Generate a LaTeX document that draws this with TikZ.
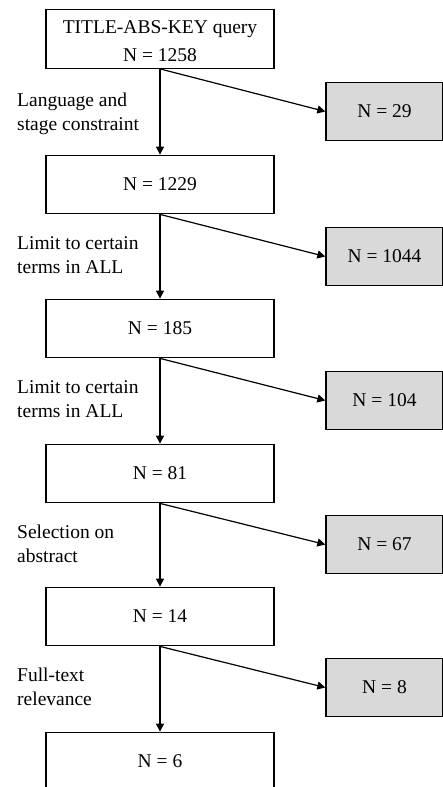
\documentclass[tikz,border=0pt]{standalone}
\usepackage{fontspec}
\setmainfont{Liberation Serif}
\usetikzlibrary{arrows.meta}
\definecolor{sidegray}{HTML}{D9D9D9}
\tikzset{
  mainbox/.style={draw=black, line width=1.3pt, fill=white, minimum width=228pt, minimum height=58.5pt, inner sep=0pt},
  sidebox/.style={draw=black, line width=1.3pt, fill=sidegray, minimum width=117pt, minimum height=58pt, inner sep=0pt},
  steplabel/.style={anchor=base west, align=left, inner sep=0pt},
  flow/.style={line width=1.2pt, -{Triangle[length=8pt,width=8pt]}}
}
\begin{document}
\begin{tikzpicture}[x=1pt,y=-1pt,font=\fontsize{19.5}{24}\selectfont]
\useasboundingbox (0,0) rectangle (443,787);
\clip (0,0) rectangle (443,787);
\node[mainbox] (m1) at (160,39) {\raisebox{-8.5pt}[0pt][0pt]{\begin{tabular}{@{}c@{}}TITLE-ABS-KEY query\\[4pt] N = 1258\end{tabular}}};
\node[mainbox] (m2) at (160,184.5) {N = 1229};
\node[mainbox] (m3) at (160,328.5) {N = 185};
\node[mainbox] (m4) at (160,473.5) {N = 81};
\node[mainbox] (m5) at (160,616.5) {N = 14};
\node[mainbox] (m6) at (160,761.5) {N = 6};
\node[sidebox] (s1) at (384.5,111.5) {N = 29};
\node[sidebox] (s2) at (384.5,256.5) {N = 1044};
\node[sidebox] (s3) at (384.5,400.5) {N = 104};
\node[sidebox] (s4) at (384.5,544.5) {N = 67};
\node[sidebox] (s5) at (384.5,687.5) {N = 8};
\node[steplabel] (l1) at (17,130.5) {Language and\\stage constraint};
\node[steplabel] (l2) at (17,273) {Limit to certain\\terms in ALL};
\node[steplabel] (l3) at (17,417) {Limit to certain\\terms in ALL};
\node[steplabel] (l4) at (17,562) {Selection on\\abstract};
\node[steplabel] (l5) at (17,705) {Full-text\\relevance};
\foreach \a/\b/\s in {m1/m2/s1, m2/m3/s2, m3/m4/s3, m4/m5/s4, m5/m6/s5}{
  \draw[flow] (\a.south) -- (\b.north);
  \draw[flow] (\a.south) -- (\s.west);
}
\end{tikzpicture}
\end{document}
